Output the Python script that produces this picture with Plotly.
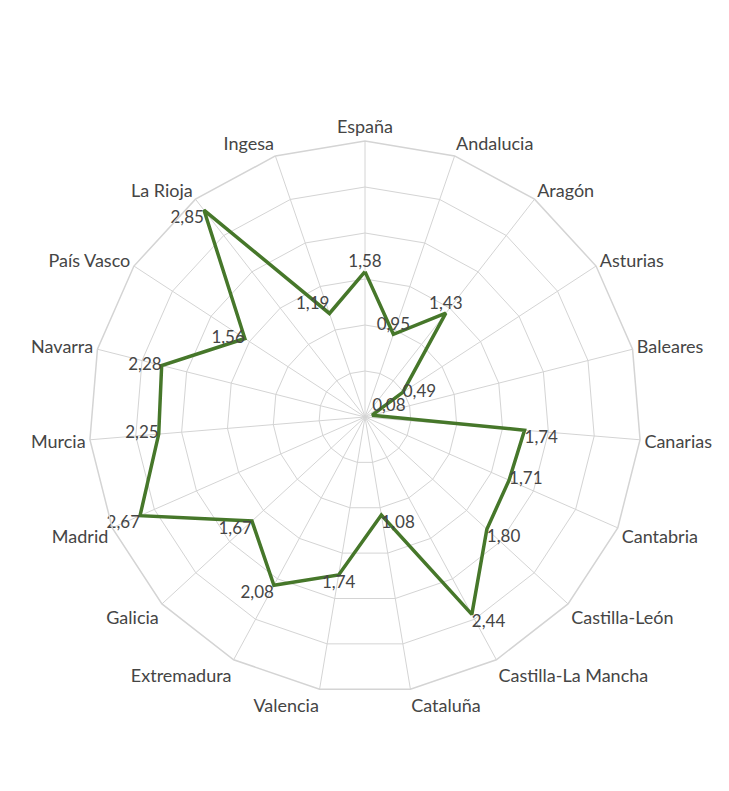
import plotly.graph_objects as go

categories = ["España", "Andalucia", "Aragón", "Asturias", "Baleares", "Canarias",
              "Cantabria", "Castilla-León", "Castilla-La Mancha", "Cataluña", "Valencia",
              "Extremadura", "Galicia", "Madrid", "Murcia", "Navarra", "País Vasco",
              "La Rioja", "Ingesa"]
values = [1.58, 0.95, 1.43, 0.49, 0.08, 1.74, 1.71, 1.80, 2.44, 1.08, 1.74,
          2.08, 1.67, 2.67, 2.25, 2.28, 1.56, 2.85, 1.19]
value_labels = [f"{v:.2f}".replace(".", ",") for v in values]
label_pos = ["top center", "top center", "top center", "middle right", "top right",
             "bottom right", "middle right", "bottom right", "bottom right",
             "bottom right", "bottom center", "bottom left", "bottom left",
             "bottom left", "middle left", "middle left", "middle left",
             "bottom left", "top left"]

FONT = "Lato, 'Open Sans', sans-serif"
TXT = "#454545"

fig = go.Figure()
fig.add_trace(go.Scatterpolar(
    r=values + values[:1],
    theta=categories + categories[:1],
    mode="lines+text",
    line=dict(color="#46772a", width=3.5),
    text=value_labels + [""],
    textposition=label_pos + ["top center"],
    textfont=dict(family=FONT, size=17, color=TXT),
    hoverinfo="skip",
    showlegend=False,
    cliponaxis=False,
))

# page body has an 8px margin, so the figure origin is offset
cx, cy, R = 357, 409, 276
W, H = 729, 791
fig.update_layout(
    width=W, height=H,
    margin=dict(l=0, r=0, t=0, b=0),
    paper_bgcolor="white",
    plot_bgcolor="white",
    font=dict(family=FONT, size=18, color=TXT),
    polar=dict(
        domain=dict(x=[(cx - R) / W, (cx + R) / W], y=[(H - cy - R) / H, (H - cy + R) / H]),
        bgcolor="white",
        gridshape="linear",
        angularaxis=dict(
            direction="clockwise", rotation=90,
            showline=True, linecolor="#d4d4d4", linewidth=1.5,
            gridcolor="#d4d4d4", gridwidth=1.2,
            ticks="", tickfont=dict(family=FONT, size=18, color=TXT),
        ),
        radialaxis=dict(
            range=[0, 3], dtick=0.5, showticklabels=False, ticks="",
            showline=False, gridcolor="#d4d4d4", gridwidth=1.2,
        ),
    ),
)
fig.write_html("out.html")
